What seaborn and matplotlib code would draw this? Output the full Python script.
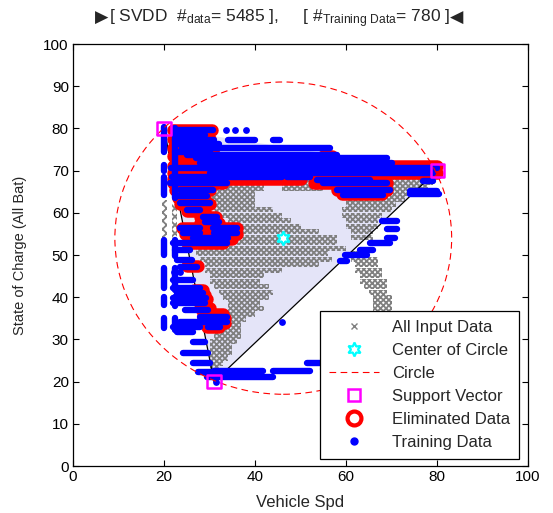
import matplotlib
matplotlib.use("Agg")
import matplotlib.pyplot as plt
import matplotlib.patches as mpatches
from matplotlib.lines import Line2D
import seaborn as sns
import pandas as pd

# ---------------- DATA ----------------
# circle found by the SVDD
center_x, center_y, radius = 46.2, 54.0, 37.0

# support vectors (also corners of the shaded triangle)
sv_x = [20, 80, 31]
sv_y = [80, 70, 20]

# all input data, drawn as dense rows of x-markers: (soc, spd_from, spd_to)
gray_rows = [
    (68.5, 32, 56), (68.5, 70, 78),
    (67.2, 31, 56), (67.2, 69, 79),
    (65.9, 30, 42), (65.9, 46, 55), (65.9, 59, 78),
    (64.6, 30, 40), (64.6, 59, 74),
    (63.3, 30, 40), (63.3, 60, 73),
    (62.0, 30, 40), (62.0, 60, 71),
    (60.7, 31, 44), (60.7, 59, 70),
    (59.4, 32, 46), (59.4, 59, 68),
    (58.1, 34, 48), (58.1, 60, 67),
    (56.8, 36, 50), (56.8, 60, 67),
    (55.5, 37, 54), (55.5, 61, 66),
    (54.2, 36, 58), (54.2, 61, 66),
    (52.9, 28, 58),
    (51.6, 27, 60),
    (50.3, 27, 56), (50.3, 61, 64),
    (49.0, 28, 57), (49.0, 61, 67),
    (47.7, 29, 54), (47.7, 62, 67),
    (46.4, 29, 46), (46.4, 62, 68),
    (45.1, 30, 42), (45.1, 63, 68),
    (43.8, 30, 41), (43.8, 63, 69),
    (42.5, 31, 43), (42.5, 64, 69),
    (41.2, 32, 44), (41.2, 65, 69),
    (39.9, 33, 43), (39.9, 66, 70),
    (38.6, 34, 41), (38.6, 66, 70),
    (37.3, 34, 42), (37.3, 66, 70),
    (36.0, 34, 40), (36.0, 67, 69),
    (34.7, 33, 38),
    (33.4, 32, 37),
    (32.1, 31, 37),
    (30.8, 31, 37),
    (29.5, 30, 36),
    (28.2, 30, 35),
    (26.9, 30, 35),
    (25.6, 30, 34),
    (24.3, 30, 33),
    (23.0, 30, 32),
]
# vertical runs of input data at the low-speed edge: (spd, soc_from, soc_to)
gray_cols = [(20.1, 54, 63), (22.3, 54, 62)]

# eliminated data, rows of red rings: (soc, spd_from, spd_to)
red_rows = [
    (79.6, 22, 30.5), (77.5, 22, 30), (75.4, 22, 31),
    (73.5, 22, 28), (73.5, 55, 57),
    (71.0, 22, 80), (69.5, 22, 80),
    (68.0, 22, 50), (67.0, 22, 33), (67.0, 53, 69),
    (65.4, 22.5, 30), (65.4, 58, 69), (64.5, 59, 68),
    (63.5, 23, 29), (62.0, 23.5, 30), (60.5, 25, 29),
    (59.0, 28, 31.5), (57.6, 28, 32), (56.4, 24, 36),
    (55.0, 24.5, 36), (53.8, 26, 35), (52.8, 25, 33),
    (47.5, 25, 27.5),
    (41.8, 26.5, 28.5), (40.5, 27, 29), (39.5, 27.5, 29.5),
    (37.5, 28, 30), (36.0, 28.5, 33), (35.0, 28.5, 33.5),
    (33.8, 29, 33.5), (33.0, 29.5, 32),
]

# training data, rows of blue dots: (soc, spd_from, spd_to)
blue_rows = [
    (79.6, 22.9, 30.8), (78.4, 22.5, 29), (77.3, 22.4, 31), (77.3, 34, 40),
    (77.3, 44, 45.5), (76.3, 23, 32),
    (75.4, 24, 56.5), (74.3, 22.5, 30), (73.7, 25, 58), (73.0, 27, 69),
    (71.8, 28, 70), (70.6, 21.5, 80), (69.5, 30, 79),
    (68.5, 21.8, 46), (68.5, 47, 52), (67.8, 53.6, 65.3),
    (67.0, 21.3, 33.8), (67.0, 55, 69), (67.5, 77, 79),
    (65.4, 23.5, 30.8), (65.4, 58, 69.7),
    (64.2, 59.3, 68.1), (64.4, 74, 80.5),
    (64.0, 22.9, 29.5), (62.3, 23.5, 30), (60.7, 25, 28),
    (59.0, 28.6, 31.6), (57.8, 29, 32), (56.4, 23.5, 28), (56.4, 30.8, 36),
    (55.2, 24.2, 28), (55.2, 31, 36), (54.0, 26.4, 34), (52.8, 22, 33.8),
    (51.2, 22.4, 25.7), (48.8, 22.9, 26.2), (47.2, 23.5, 27.2),
    (44.0, 22, 26.4), (42.2, 22, 28), (41.0, 22.9, 28.6), (39.8, 22, 29.3),
    (38.6, 22, 29), (37.0, 24.6, 29.7), (35.3, 28, 33.8),
    (34.1, 23.5, 28), (34.1, 28.6, 33.8), (33.0, 22, 28), (33.0, 29.7, 32.3),
    (31.8, 22.9, 26.4), (29.4, 26.4, 29), (26.8, 24.2, 29.7),
    (24.4, 26.4, 30), (22.3, 27.5, 31),
    (22.6, 31, 41.8), (22.6, 44, 52), (24.4, 51.4, 57), (23.0, 55, 57),
    (21.1, 29.5, 44),
    (58.0, 68, 71.2), (56.1, 69, 71.2), (54.0, 69, 70.8), (52.8, 65.3, 69.7),
    (51.2, 63, 66), (50.0, 59.8, 64.6), (48.5, 58.7, 60.2),
    (65.2, 74, 80),
]
# single training points
blue_dot_x = [33.6, 35.6, 38.0, 46.0, 31.4, 22.3, 23.5]
blue_dot_y = [79.6, 79.6, 79.6, 34.1, 19.9, 46.0, 46.0]
# vertical runs of training data: (spd, soc_from, soc_to)
blue_cols = [
    (20.1, 74.4, 80.3), (20.1, 70.0, 71.3), (20.1, 64.2, 68.5),
    (20.1, 50.0, 53.6), (20.1, 42.2, 47.0), (20.1, 38.2, 40.0), (20.1, 32.7, 35.0),
    (22.4, 63.5, 80.0), (22.4, 49.8, 53.6), (22.4, 41.8, 47.0),
    (22.4, 38.0, 40.0), (22.4, 32.3, 35.0),
]
# --------------------------------------

sns.set_style("ticks")
plt.rcParams["font.family"] = ["Liberation Sans", "DejaVu Sans"]
plt.rcParams["mathtext.fontset"] = "custom"
plt.rcParams["mathtext.rm"] = "Liberation Sans"
plt.rcParams["mathtext.it"] = "Liberation Sans"
plt.rcParams["hatch.linewidth"] = 1.3

fig = plt.figure(figsize=(5.53, 5.13), dpi=100)
ax = fig.add_axes([0.132, 0.0916, 0.823, 0.8226])

# shaded region spanned by the support vectors
tri = mpatches.Polygon(list(zip(sv_x, sv_y)), closed=True, facecolor="#e4e4f8",
                       edgecolor="none", zorder=1)
ax.add_patch(tri)

# input data as cross-hatched strips (looks like packed x markers)
gdf = pd.DataFrame(gray_rows, columns=["soc", "x0", "x1"])
ax.barh(gdf["soc"], gdf["x1"] - gdf["x0"], left=gdf["x0"], height=1.25,
        facecolor="none", edgecolor="#7f7f7f", hatch="xxxxxx", linewidth=0,
        zorder=2)
gcol = pd.DataFrame(gray_cols, columns=["spd", "y0", "y1"])
ax.bar(gcol["spd"], gcol["y1"] - gcol["y0"], bottom=gcol["y0"], width=1.0,
       facecolor="none", edgecolor="#7f7f7f", hatch="xxxx", linewidth=0, zorder=2)

# triangle edges
ax.plot([sv_x[0], sv_x[2], sv_x[1]], [sv_y[0], sv_y[2], sv_y[1]], color="black",
        linewidth=0.9, zorder=3)

rdf = pd.DataFrame(red_rows, columns=["soc", "x0", "x1"])
ax.hlines(rdf["soc"], rdf["x0"], rdf["x1"], colors="red", linewidth=9,
          capstyle="round", zorder=4)

bdf = pd.DataFrame(blue_rows, columns=["soc", "x0", "x1"])
ax.hlines(bdf["soc"], bdf["x0"], bdf["x1"], colors="blue", linewidth=4.6,
          capstyle="round", zorder=5)
bcol = pd.DataFrame(blue_cols, columns=["spd", "y0", "y1"])
ax.vlines(bcol["spd"], bcol["y0"], bcol["y1"], colors="blue", linewidth=4.6,
          capstyle="round", zorder=5)
sns.scatterplot(x=blue_dot_x, y=blue_dot_y, color="blue", s=24, linewidth=0,
                ax=ax, zorder=5, legend=False)

# circle and its centre
ax.add_patch(mpatches.Circle((center_x, center_y), radius, fill=False,
                             edgecolor="red", linestyle=(0, (6, 4)),
                             linewidth=0.8, zorder=6))
ax.plot([center_x], [center_y], marker=(6, 1, 0), markersize=10,
        markerfacecolor="white", markeredgecolor="cyan", markeredgewidth=1.6,
        linestyle="none", zorder=7)

sns.scatterplot(x=sv_x, y=sv_y, marker="s", s=90, facecolor="none",
                edgecolor="magenta", linewidth=1.8, ax=ax, zorder=8, legend=False)

ax.set_xlim(0, 100)
ax.set_ylim(0, 100)
ax.set_xticks(range(0, 101, 20))
ax.set_yticks(range(0, 101, 10))
ax.tick_params(direction="in", length=4, width=0.8, top=True, right=True,
               labelsize=11, colors="black", pad=3)
for s in ax.spines.values():
    s.set_visible(True)
    s.set_linewidth(0.9)
    s.set_color("black")
ax.set_xlabel("Vehicle Spd", fontsize=12, labelpad=8)
ax.set_ylabel("State of Charge (All Bat)", fontsize=10.5, labelpad=12)

# title with pointer glyphs on both sides
title = fig.text(0.505, 0.963,
                 r"[ SVDD  $\#_{\mathrm{data}}$= 5485 ],     [ $\#_{\mathrm{Training\ Data}}$= 780 ]",
                 ha="center", va="center", fontsize=12.5)
fig.canvas.draw()
bb = title.get_window_extent().transformed(fig.transFigure.inverted())
fig.text(bb.x0, 0.965, "▶", ha="right", va="center", fontsize=12.5,
         family="DejaVu Sans")
fig.text(bb.x1, 0.965, "◀", ha="left", va="center", fontsize=12.5,
         family="DejaVu Sans")

handles = [
    Line2D([], [], marker="x", color="gray", markersize=5, linestyle="none"),
    Line2D([], [], marker=(6, 1, 0), markersize=10, markerfacecolor="white",
           markeredgecolor="cyan", markeredgewidth=1.6, linestyle="none"),
    Line2D([], [], color="red", linestyle=(0, (6, 4)), linewidth=0.8),
    Line2D([], [], marker="s", markersize=9, markerfacecolor="none",
           markeredgecolor="magenta", markeredgewidth=1.8, linestyle="none"),
    Line2D([], [], marker="o", markersize=10, markerfacecolor="white",
           markeredgecolor="red", markeredgewidth=3, linestyle="none"),
    Line2D([], [], marker="o", markersize=5, color="blue", linestyle="none"),
]
labels = ["All Input Data", "Center of Circle", "Circle", "Support Vector",
          "Eliminated Data", "Training Data"]
leg = ax.legend(handles, labels, loc="lower right", bbox_to_anchor=(0.98, 0.017),
                fontsize=12, frameon=True, fancybox=False, edgecolor="black",
                framealpha=1, labelspacing=0.48, handlelength=3.0,
                handletextpad=0.75, borderpad=0.55, borderaxespad=0.0)
leg.get_frame().set_linewidth(0.9)
leg.set_zorder(20)

fig.savefig("out.png", dpi=100)
